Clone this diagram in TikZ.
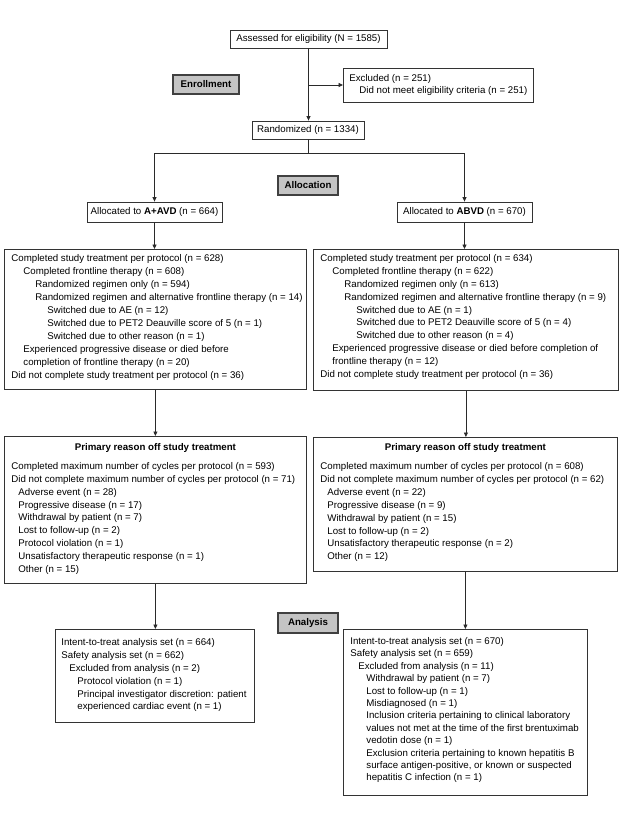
\documentclass[tikz,border=0pt]{standalone}
\usepackage{fontspec}
\setmainfont{Liberation Sans}
\usetikzlibrary{arrows.meta}
\definecolor{lineclr}{HTML}{2A2A2A}
\definecolor{boxclr}{HTML}{333333}
\definecolor{grayfill}{HTML}{C4C4C4}
\definecolor{grayborder}{HTML}{404040}
\newcommand{\myl}[2]{\par\hspace*{#1pt}\mbox{#2}}
\newcommand{\firstst}{\rule{0pt}{7.5pt}}
\begin{document}
\begin{tikzpicture}[x=1pt,y=-1pt,
  every node/.style={font=\fontsize{9.7}{12.9}\selectfont},
  smallbox/.style={draw=boxclr, line width=0.8pt, fill=white, inner sep=0pt},
  tbox/.style={draw=boxclr, line width=0.8pt, fill=white, inner sep=0pt, anchor=north west},
  graybox/.style={draw=grayborder, line width=1.1pt, fill=grayfill, inner sep=0pt, font=\fontsize{9.7}{12}\selectfont\bfseries},
  conn/.style={draw=lineclr, line width=0.8pt},
  arr/.style={conn, -{Triangle[length=4.5pt,width=4pt]}}
]
\useasboundingbox[fill=white] (0,0) rectangle (625,832);

% top boxes
\node[smallbox, minimum width=157pt, minimum height=18pt] (assess) at (308.5,39) {Assessed for eligibility (N = 1585)};
\node[smallbox, minimum width=188pt, minimum height=34pt, align=left, anchor=west, inner xsep=6pt] (excl) at (343,85)
  {Excluded (n = 251)\\\hspace*{10pt}Did not meet eligibility criteria (n = 251)};
\node[smallbox, minimum width=112pt, minimum height=18pt] (rand) at (308,130) {Randomized (n = 1334)};
\node[smallbox, minimum width=135pt, minimum height=20pt] (allocL) at (154.5,212) {Allocated to \textbf{A+AVD} (n = 664)};
\node[smallbox, minimum width=135pt, minimum height=20pt] (allocR) at (464.5,212) {Allocated to \textbf{ABVD} (n = 670)};

% gray labels
\node[graybox, minimum width=66pt, minimum height=19pt] (enroll) at (206,84.5) {Enrollment};
\node[graybox, minimum width=60pt, minimum height=19pt] (alloc) at (308,185.5) {Allocation};
\node[graybox, minimum width=60pt, minimum height=20pt] (anal) at (308,623) {Analysis};

% completed boxes
\node[tbox] (compL) at (4,249) {\parbox[t][140pt][t]{302pt}{\leftskip=7pt\relax\setlength{\baselineskip}{12.9pt}\vspace*{5pt}%
\myl{0}{\firstst Completed study treatment per protocol (n = 628)}%
\myl{12}{Completed frontline therapy (n = 608)}%
\myl{24}{Randomized regimen only (n = 594)}%
\myl{24}{Randomized regimen and alternative frontline therapy (n = 14)}%
\myl{36}{Switched due to AE (n = 12)}%
\myl{36}{Switched due to PET2 Deauville score of 5 (n = 1)}%
\myl{36}{Switched due to other reason (n = 1)}%
\myl{12}{Experienced progressive disease or died before}%
\myl{12}{completion of frontline therapy (n = 20)}%
\myl{0}{Did not complete study treatment per protocol (n = 36)}\par}};

\node[tbox] (compR) at (313,249) {\parbox[t][141pt][t]{305pt}{\leftskip=7pt\relax\setlength{\baselineskip}{12.9pt}\vspace*{4.5pt}%
\myl{0}{\firstst Completed study treatment per protocol (n = 634)}%
\myl{12}{Completed frontline therapy (n = 622)}%
\myl{24}{Randomized regimen only (n = 613)}%
\myl{24}{Randomized regimen and alternative frontline therapy (n = 9)}%
\myl{36}{Switched due to AE (n = 1)}%
\myl{36}{Switched due to PET2 Deauville score of 5 (n = 4)}%
\myl{36}{Switched due to other reason (n = 4)}%
\myl{12}{Experienced progressive disease or died before completion of}%
\myl{12}{frontline therapy (n = 12)}%
\myl{0}{Did not complete study treatment per protocol (n = 36)}\par}};

% primary reason boxes
\node[tbox] (primL) at (4,436) {\parbox[t][147pt][t]{302pt}{\leftskip=7pt\relax\setlength{\baselineskip}{12.9pt}\vspace*{6.5pt}%
\myl{0}{\makebox[288pt][c]{\firstst\bfseries Primary reason off study treatment}}\par\vspace{6pt}%
\myl{0}{Completed maximum number of cycles per protocol (n = 593)}%
\myl{0}{Did not complete maximum number of cycles per protocol (n = 71)}%
\myl{7}{Adverse event (n = 28)}%
\myl{7}{Progressive disease (n = 17)}%
\myl{7}{Withdrawal by patient (n = 7)}%
\myl{7}{Lost to follow-up (n = 2)}%
\myl{7}{Protocol violation (n = 1)}%
\myl{7}{Unsatisfactory therapeutic response (n = 1)}%
\myl{7}{Other (n = 15)}\par}};

\node[tbox] (primR) at (313,437) {\parbox[t][134pt][t]{304pt}{\leftskip=7pt\relax\setlength{\baselineskip}{12.9pt}\vspace*{6pt}%
\myl{0}{\makebox[290pt][c]{\firstst\bfseries Primary reason off study treatment}}\par\vspace{5.7pt}%
\myl{0}{Completed maximum number of cycles per protocol (n = 608)}%
\myl{0}{Did not complete maximum number of cycles per protocol (n = 62)}%
\myl{7}{Adverse event (n = 22)}%
\myl{7}{Progressive disease (n = 9)}%
\myl{7}{Withdrawal by patient (n = 15)}%
\myl{7}{Lost to follow-up (n = 2)}%
\myl{7}{Unsatisfactory therapeutic response (n = 2)}%
\myl{7}{Other (n = 12)}\par}};

% analysis boxes
\node[tbox] (anaL) at (55,629) {\parbox[t][93pt][t]{199pt}{\leftskip=6pt\relax\setlength{\baselineskip}{12.9pt}\vspace*{8.5pt}%
\myl{0}{\firstst Intent-to-treat analysis set (n = 664)}%
\myl{0}{Safety analysis set (n = 662)}%
\myl{8}{Excluded from analysis (n = 2)}%
\myl{16}{Protocol violation (n = 1)}%
\myl{16}{Principal investigator discretion: patient}%
\myl{16}{experienced cardiac event (n = 1)}\par}};

\node[tbox] (anaR) at (343,629) {\parbox[t][166pt][t]{244pt}{\leftskip=7pt\relax\setlength{\baselineskip}{12.4pt}\vspace*{7.5pt}%
\myl{0}{\firstst Intent-to-treat analysis set (n = 670)}%
\myl{0}{Safety analysis set (n = 659)}%
\myl{8}{Excluded from analysis (n = 11)}%
\myl{16}{Withdrawal by patient (n = 7)}%
\myl{16}{Lost to follow-up (n = 1)}%
\myl{16}{Misdiagnosed (n = 1)}%
\myl{16}{Inclusion criteria pertaining to clinical laboratory}%
\myl{16}{values not met at the time of the first brentuximab}%
\myl{16}{vedotin dose (n = 1)}%
\myl{16}{Exclusion criteria pertaining to known hepatitis B}%
\myl{16}{surface antigen-positive, or known or suspected}%
\myl{16}{hepatitis C infection (n = 1)}\par}};

% connectors
\draw[arr] (assess.south) -- (assess.south |- rand.north);
\draw[arr] (assess.south |- excl.west) -- (excl.west);
\path (rand.south) ++(0,14) coordinate (split);
\draw[conn] (rand.south) -- (split);
\draw[arr] (split) -| (allocL.north);
\draw[arr] (split) -| (allocR.north);
\draw[arr] (allocL.south) -- (allocL.south |- compL.north);
\draw[arr] (allocR.south) -- (allocR.south |- compR.north);
\draw[arr] (compL.south) -- (compL.south |- primL.north);
\draw[arr] (compR.south) -- (compR.south |- primR.north);
\draw[arr] (primL.south) -- (primL.south |- anaL.north);
\draw[arr] (primR.south) -- (primR.south |- anaR.north);
\end{tikzpicture}
\end{document}
